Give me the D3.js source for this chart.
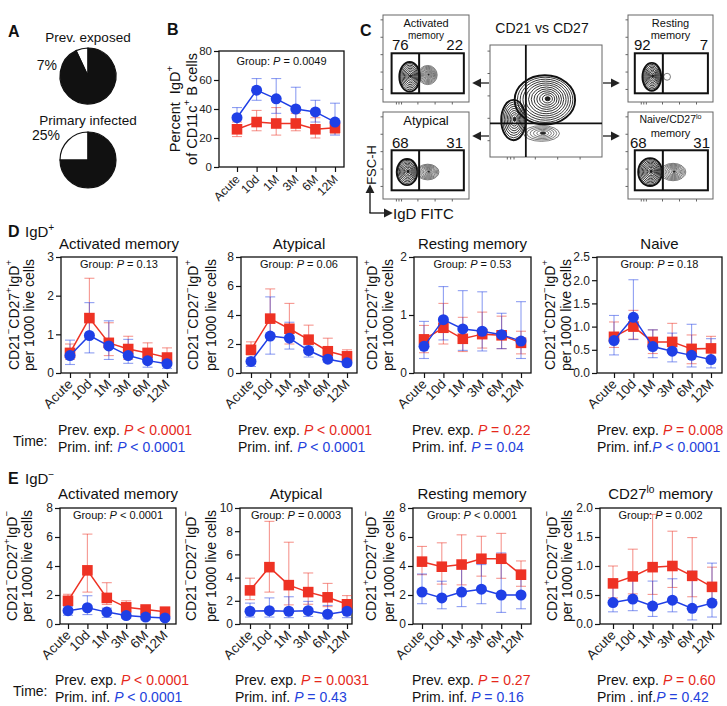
<!DOCTYPE html>
<html>
<head>
<meta charset="utf-8">
<script src="https://cdn.jsdelivr.net/npm/d3@7.9.0/dist/d3.min.js"></script>
<style>
  body { margin: 0; background: #fff; }
  svg { display: block; font-family: "Liberation Sans", Arial, Helvetica, sans-serif; }
  text { white-space: pre; }
</style>
</head>
<body>
<svg id="fig" width="727" height="706"></svg>
<script>
const timepoints = ['Acute', '10d', '1M', '3M', '6M', '12M'];

// A: share of IgD- cells (white slice)
const pieGroups = ['Prev. exposed', 'Primary infected'];
const pieIgdNegPct = [7, 25];
const pieLabels = ['7%', '25%'];

// B: percent IgD+ of CD11c+ B cells, [lower, mean, upper]
const bPrev = [[21, 26, 31], [25, 31, 39], [22, 30, 41], [25, 30, 37], [20, 26, 34], [23, 27, 31]];
const bPrim = [[28, 34, 41], [46, 53, 61], [37, 47, 61], [29, 40, 55], [31, 38, 46], [22, 31, 44]];

// C: flow plots, gate percentages and populations [IgD, FSC, spreadX, spreadY, levels, bold]
const cActPct = [76, 22];
const cAtyPct = [68, 31];
const cRestPct = [92, 7];
const cNaivePct = [68, 31];
const cActPops = [[31, 29, 12, 17, 9, 1], [52, 31, 11, 11, 10, 0]];
const cAtyPops = [[28, 31, 12, 15, 9, 1], [52, 31, 13, 9, 9, 0]];
const cRestPops = [[28, 29, 11, 16, 9, 1], [46, 29, 4, 4, 1, 0]];
const cNaivePops = [[26, 31, 14, 16, 10, 1], [53, 31, 15, 10, 9, 0]];
const cMainPops = [[49, 51, 27, 22, 12, 1], [21, 33, 11, 18, 9, 1], [46, 21, 16, 7, 6, 0]];

// D: IgD+ subsets, cells per 1000 live cells [lower, mean, upper]
const dActPrev = [[0.35, 0.52, 0.75], [0.9, 1.42, 2.45], [0.45, 0.78, 1.3], [0.35, 0.62, 0.95], [0.3, 0.52, 0.78], [0.22, 0.4, 0.65]];
const dActPrim = [[0.22, 0.45, 0.85], [0.52, 0.97, 1.82], [0.35, 0.7, 1.35], [0.25, 0.45, 0.87], [0.15, 0.32, 0.55], [0.12, 0.24, 0.45]];
const dAtyPrev = [[1.25, 1.6, 2.15], [2.6, 3.75, 5.8], [2.0, 3.05, 4.8], [1.6, 2.3, 3.3], [1.0, 1.5, 2.4], [0.8, 1.15, 1.6]];
const dAtyPrim = [[0.45, 0.8, 1.05], [1.3, 2.55, 5.25], [1.65, 2.4, 3.5], [1.1, 1.55, 1.85], [0.75, 0.95, 1.2], [0.5, 0.7, 0.85]];
const dRestPrev = [[0.35, 0.58, 0.82], [0.5, 0.78, 1.2], [0.37, 0.59, 0.96], [0.43, 0.67, 1.05], [0.42, 0.65, 0.98], [0.33, 0.52, 0.72]];
const dRestPrim = [[0.25, 0.46, 0.89], [0.57, 0.92, 1.49], [0.39, 0.76, 1.42], [0.38, 0.72, 1.4], [0.42, 0.66, 1.03], [0.25, 0.55, 1.23]];
const dNaivePrev = [[0.55, 0.78, 1.1], [0.73, 1.0, 1.35], [0.42, 0.67, 0.93], [0.43, 0.67, 1.07], [0.2, 0.52, 0.82], [0.35, 0.53, 0.79]];
const dNaivePrim = [[0.39, 0.7, 1.24], [0.72, 1.2, 2.01], [0.33, 0.57, 0.93], [0.24, 0.47, 0.86], [0.13, 0.38, 1.05], [0.11, 0.29, 0.74]];

// E: IgD- subsets
const eActPrev = [[1.35, 1.6, 2.05], [2.2, 3.7, 6.2], [1.35, 1.8, 2.85], [0.85, 1.15, 1.6], [0.8, 1.0, 1.2], [0.65, 0.85, 1.0]];
const eActPrim = [[0.6, 0.92, 1.2], [0.65, 1.12, 1.95], [0.45, 0.82, 1.1], [0.4, 0.58, 0.8], [0.3, 0.48, 0.65], [0.28, 0.42, 0.55]];
const eAtyPrev = [[2.1, 2.9, 3.95], [2.75, 4.9, 8.85], [1.65, 3.35, 7.05], [1.7, 2.75, 4.4], [1.5, 2.3, 3.5], [1.25, 1.7, 2.45]];
const eAtyPrim = [[0.6, 1.1, 1.8], [0.6, 1.15, 2.25], [0.55, 1.1, 2.35], [0.65, 1.15, 1.95], [0.45, 0.85, 1.6], [0.55, 1.1, 1.6]];
const eRestPrev = [[3.4, 4.3, 5.35], [2.75, 3.95, 5.6], [2.7, 4.1, 6.15], [3.3, 4.5, 6.05], [3.15, 4.5, 6.25], [2.6, 3.4, 4.35]];
const eRestPrim = [[1.4, 2.2, 3.45], [1.05, 1.8, 2.95], [1.2, 2.2, 3.95], [1.4, 2.4, 4.1], [0.8, 2.0, 4.9], [1.05, 2.0, 3.7]];
const eLoPrev = [[0.45, 0.7, 1.0], [0.52, 0.82, 1.29], [0.51, 0.98, 1.89], [0.63, 1.0, 1.6], [0.47, 0.83, 1.49], [0.42, 0.64, 0.98]];
const eLoPrim = [[0.21, 0.37, 0.64], [0.23, 0.43, 0.86], [0.13, 0.31, 0.74], [0.21, 0.41, 0.78], [0.07, 0.27, 0.91], [0.12, 0.36, 1.05]];

// labels and stats
const dTitles = ['Activated memory', 'Atypical', 'Resting memory', 'Naive'];
const eTitles = ['Activated memory', 'Atypical', 'Resting memory', 'CD27{lo} memory'];
const dYLabels = ['CD21{−}CD27{+}IgD{+}', 'CD21{−}CD27{−}IgD{+}', 'CD21{+}CD27{+}IgD{+}', 'CD21{+}CD27{−}IgD{+}'];
const eYLabels = ['CD21{−}CD27{+}IgD{−}', 'CD21{−}CD27{−}IgD{−}', 'CD21{+}CD27{+}IgD{−}', 'CD21{+}CD27{−}IgD{−}'];
const dYTicks = [[0, 1, 2, 3], [0, 2, 4, 6, 8], [0, 1, 2], [0, 0.5, 1, 1.5, 2, 2.5]];
const eYTicks = [[0, 2, 4, 6, 8], [0, 2, 4, 6, 8, 10], [0, 2, 4, 6, 8], [0, 0.5, 1, 1.5, 2]];
const dGroupP = ['= 0.13', '= 0.06', '= 0.53', '= 0.18'];
const eGroupP = ['< 0.0001', '= 0.0003', '< 0.0001', '= 0.002'];
const dTimePrev = ['< 0.0001', '< 0.0001', '= 0.22', '= 0.008'];
const dTimePrim = ['< 0.0001', '< 0.0001', '= 0.04', '< 0.0001'];
const eTimePrev = ['< 0.0001', '= 0.0031', '= 0.27', '= 0.60'];
const eTimePrim = ['< 0.0001', '= 0.43', '= 0.16', '= 0.42'];
const dPrimName = ['Prim. inf: ', 'Prim. inf. ', 'Prim. inf. ', 'Prim. inf.'];
const ePrimName = ['Prim. inf. ', 'Prim. inf. ', 'Prim. inf. ', 'Prim . inf.'];

const RED = '#ee3224';
const BLUE = '#1f3fe6';
const RED_T = '#e5281c';
const BLUE_T = '#2442dc';
const INK = '#111';

const svg = d3.select('#fig');

// text with {superscript} parts
function rich(t, str, size) {
  const parts = str.split(/(\{[^}]*\})/).filter(s => s.length);
  let up = false;
  parts.forEach(p => {
    if (p[0] === '{') {
      t.append('tspan').attr('font-size', size * 0.68).attr('dy', -size * 0.4).text(p.slice(1, -1));
      up = true;
    } else {
      const s = t.append('tspan').text(p);
      if (up) { s.attr('dy', size * 0.4); up = false; }
    }
  });
  return t;
}

function label(parent, x, y, str, size, opt = {}) {
  const t = parent.append('text')
    .attr('x', x).attr('y', y)
    .attr('font-size', size)
    .attr('fill', opt.fill || INK)
    .attr('text-anchor', opt.anchor || 'start');
  if (opt.weight) t.attr('font-weight', opt.weight);
  if (opt.transform) t.attr('transform', opt.transform);
  if (opt.baseline) t.attr('dominant-baseline', opt.baseline);
  return rich(t, str, size);
}

function pText(parent, x, y, prefix, rel, color, size, anchor) {
  const t = parent.append('text')
    .attr('x', x).attr('y', y)
    .attr('font-size', size)
    .attr('fill', INK)
    .attr('text-anchor', anchor || 'start');
  t.append('tspan').text(prefix);
  t.append('tspan').attr('font-style', 'italic').attr('fill', color).text('P');
  t.append('tspan').attr('fill', color).text(' ' + rel);
  return t;
}

// ---------- panel letters ----------
label(svg, 8, 37, 'A', 16, { weight: 700 });
label(svg, 167, 35, 'B', 16, { weight: 700 });
label(svg, 360, 36, 'C', 16, { weight: 700 });
label(svg, 8, 237, 'D', 16, { weight: 700 });
label(svg, 25, 237, 'IgD{+}', 15);
label(svg, 8, 484, 'E', 16, { weight: 700 });
label(svg, 25, 484, 'IgD{−}', 15);

// ---------- A: pies ----------
const pieCy = [76, 160];
const pieTitleY = [42, 125];
const arc = d3.arc().innerRadius(0).outerRadius(28);
pieGroups.forEach((name, i) => {
  const p = pieIgdNegPct[i] / 100;
  const pie = d3.pie().sort(null)
    .startAngle(-p * 2 * Math.PI)
    .endAngle((1 - p) * 2 * Math.PI);
  const g = svg.append('g').attr('transform', `translate(88,${pieCy[i]})`);
  g.selectAll('path')
    .data(pie([pieIgdNegPct[i], 100 - pieIgdNegPct[i]]))
    .join('path')
    .attr('d', arc)
    .attr('fill', (d, j) => j === 0 ? '#fff' : '#111')
    .attr('stroke', '#111')
    .attr('stroke-width', 1.2);
  label(svg, 88, pieTitleY[i], name, 13.5, { anchor: 'middle' });
  label(svg, i === 0 ? 57 : 60, pieCy[i] + (i === 0 ? -6 : -20), pieLabels[i], 14, { anchor: 'end' });
});

// ---------- line chart ----------
function lineChart(o) {
  const g = svg.append('g');
  const x = d3.scalePoint().domain(timepoints).range([o.left + o.padL, o.right - o.padR]);
  const y = d3.scaleLinear().domain([0, o.ticks[o.ticks.length - 1]]).range([o.bottom, o.top]);

  const yAxis = g.append('g')
    .attr('transform', `translate(${o.left},0)`)
    .call(d3.axisLeft(y).tickValues(o.ticks).tickFormat(o.fmt).tickSize(5).tickPadding(2));
  yAxis.attr('font-family', null).attr('font-size', o.tickFs);
  yAxis.select('.domain').remove();
  yAxis.selectAll('.tick line').attr('stroke', INK).attr('stroke-width', 1.2);
  yAxis.selectAll('.tick text').attr('fill', '#222');

  const xAxis = g.append('g')
    .attr('transform', `translate(0,${o.bottom})`)
    .call(d3.axisBottom(x).tickSize(5));
  xAxis.attr('font-family', null).attr('font-size', o.xFs);
  xAxis.select('.domain').remove();
  xAxis.selectAll('.tick line').attr('stroke', INK).attr('stroke-width', 1.2);
  xAxis.selectAll('.tick text')
    .attr('y', 0).attr('dy', null)
    .attr('text-anchor', 'end')
    .attr('fill', '#222')
    .attr('transform', `translate(${o.xdx},${o.xdy}) rotate(-45)`);

  g.append('rect')
    .attr('x', o.left).attr('y', o.top)
    .attr('width', o.right - o.left).attr('height', o.bottom - o.top)
    .attr('fill', 'none').attr('stroke', INK).attr('stroke-width', 1.3);

  const series = [
    { data: o.prev, color: RED, kind: 'square' },
    { data: o.prim, color: BLUE, kind: 'circle' }
  ];
  const cap = 5;
  series.forEach(s => {
    const eb = g.append('g').attr('stroke', s.color).attr('stroke-opacity', 0.5).attr('stroke-width', 1.1);
    eb.selectAll('line.v').data(s.data).join('line').attr('class', 'v')
      .attr('x1', (d, i) => x(timepoints[i])).attr('x2', (d, i) => x(timepoints[i]))
      .attr('y1', d => y(d[0])).attr('y2', d => y(d[2]));
    [0, 2].forEach(k => {
      eb.selectAll('line.c' + k).data(s.data).join('line').attr('class', 'c' + k)
        .attr('x1', (d, i) => x(timepoints[i]) - cap).attr('x2', (d, i) => x(timepoints[i]) + cap)
        .attr('y1', d => y(d[k])).attr('y2', d => y(d[k]));
    });
  });
  series.forEach(s => {
    g.append('path')
      .datum(s.data)
      .attr('fill', 'none')
      .attr('stroke', s.color)
      .attr('stroke-width', 1.5)
      .attr('d', d3.line().x((d, i) => x(timepoints[i])).y(d => y(d[1])));
    const sym = d3.symbol().type(s.kind === 'square' ? d3.symbolSquare : d3.symbolCircle)
      .size(s.kind === 'square' ? 112 : 95);
    g.selectAll('path.m-' + s.kind).data(s.data).join('path').attr('class', 'm-' + s.kind)
      .attr('transform', (d, i) => `translate(${x(timepoints[i])},${y(d[1])})`)
      .attr('d', sym)
      .attr('fill', s.color);
  });

  const cx = (o.left + o.right) / 2;
  if (o.title) label(g, cx, o.titleY, o.title, 15, { anchor: 'middle' });
  pText(g, cx, o.top + o.groupDy, 'Group: ', o.group, INK, 11, 'middle');

  const cy = (o.top + o.bottom) / 2;
  o.ylab.forEach((s, i) => {
    label(g, 0, 0, s, o.labFs, {
      anchor: 'middle', baseline: 'central',
      transform: `translate(${o.left + o.labOff[i]},${cy}) rotate(-90)`
    });
  });
}

// ---------- B ----------
lineChart({
  left: 219, right: 344, top: 51, bottom: 167, padL: 18, padR: 9,
  ticks: [0, 20, 40, 60, 80], fmt: d3.format('d'), tickFs: 11.5, xFs: 12, xdx: 3, xdy: 13,
  prev: bPrev, prim: bPrim,
  group: '= 0.0049', groupDy: 14,
  ylab: ['Percent  IgD{+}', 'of CD11c{+} B cells'], labOff: [-44, -27], labFs: 14.5
});

// ---------- D and E ----------
const dLayout = [
  { left: 61, right: 177, padL: 9, padR: 10, lab: [-47, -32], tx: 58 },
  { left: 241, right: 357, padL: 10, padR: 10, lab: [-48, -30], tx: 238 },
  { left: 414, right: 531, padL: 10, padR: 10, lab: [-42, -26], tx: 412 },
  { left: 597, right: 722, padL: 17, padR: 11, lab: [-47, -31], tx: 597 }
];
const eLayout = [
  { left: 60, right: 176, padL: 8, padR: 11, lab: [-48, -33], tx: 55 },
  { left: 240, right: 352, padL: 10, padR: 5, lab: [-49, -29], tx: 235 },
  { left: 413, right: 531, padL: 9, padR: 10, lab: [-42, -24], tx: 412 },
  { left: 600, right: 721, padL: 13, padR: 9, lab: [-48, -33], tx: 597 }
];
const dSeries = [[dActPrev, dActPrim], [dAtyPrev, dAtyPrim], [dRestPrev, dRestPrim], [dNaivePrev, dNaivePrim]];
const eSeries = [[eActPrev, eActPrim], [eAtyPrev, eAtyPrim], [eRestPrev, eRestPrim], [eLoPrev, eLoPrim]];

function row(layout, series, titles, ylabels, ticks, groupP, timePrev, timePrim, primName, top, bottom, titleY, timeY) {
  layout.forEach((L, i) => {
    const decimal = ticks[i].some(v => v % 1 !== 0);
    lineChart({
      left: L.left, right: L.right, top, bottom, padL: L.padL, padR: L.padR,
      ticks: ticks[i], fmt: decimal ? d3.format('.1f') : d3.format('d'),
      tickFs: 12, xFs: 13.5, xdx: 3, xdy: 12,
      prev: series[i][0], prim: series[i][1],
      title: titles[i], titleY,
      group: groupP[i], groupDy: 11,
      ylab: [ylabels[i], 'per 1000 live cells'], labOff: L.lab, labFs: 14
    });
    pText(svg, L.tx, timeY[0], 'Prev. exp. ', timePrev[i], RED_T, 14);
    pText(svg, L.tx, timeY[1], primName[i], timePrim[i], BLUE_T, 14);
  });
  label(svg, 13, (timeY[0] + timeY[1]) / 2 + 2, 'Time:', 14);
}

row(dLayout, dSeries, dTitles, dYLabels, dYTicks, dGroupP, dTimePrev, dTimePrim, dPrimName, 257, 373, 249, [435, 452]);
row(eLayout, eSeries, eTitles, eYLabels, eYTicks, eGroupP, eTimePrev, eTimePrim, ePrimName, 508, 624, 499, [685, 702]);

// ---------- C: flow plots ----------
const defs = svg.append('defs');
defs.append('marker').attr('id', 'arr')
  .attr('viewBox', '0 0 10 10').attr('refX', 8).attr('refY', 5)
  .attr('markerWidth', 7).attr('markerHeight', 7).attr('orient', 'auto')
  .append('path').attr('d', 'M0,0L10,5L0,10z').attr('fill', '#222');

function flowBox(b, pops, opts) {
  const g = svg.append('g');
  const xs = d3.scaleLinear().domain([0, 100]).range([b.x0, b.x1]);
  const ys = d3.scaleLinear().domain([0, 100]).range([b.y1, b.y0]);
  g.append('rect').attr('x', b.x0).attr('y', b.y0).attr('width', b.x1 - b.x0).attr('height', b.y1 - b.y0)
    .attr('fill', '#fff').attr('stroke', '#666').attr('stroke-width', 1);
  const la = g.append('g').attr('transform', `translate(${b.x0},0)`)
    .call(d3.axisLeft(ys).tickValues([15, 35, 55, 75, 95]).tickFormat('').tickSize(2.5));
  la.select('.domain').remove();
  la.selectAll('line').attr('stroke', '#666');
  const ba = g.append('g').attr('transform', `translate(0,${b.y1})`)
    .call(d3.axisBottom(xs).tickValues([15, 18, 21, 40, 60, 80]).tickFormat('').tickSize(2.5));
  ba.select('.domain').remove();
  ba.selectAll('line').attr('stroke', '#666');

  pops.forEach(([px, py, sx, sy, n, bold]) => {
    for (let k = n; k >= 1; k--) {
      const f = k / n;
      g.append('ellipse')
        .attr('cx', xs(px + sx * 0.1 * (1 - f)))
        .attr('cy', ys(py + sy * 0.05 * (1 - f)))
        .attr('rx', xs(sx * f) - xs(0))
        .attr('ry', ys(0) - ys(sy * f))
        .attr('fill', k === 1 && n > 1 ? '#222' : 'none')
        .attr('stroke', bold ? '#111' : '#444')
        .attr('stroke-width', k === n && bold ? 1.9 : (bold ? 0.85 : 0.7));
    }
  });

  if (opts.gate) {
    const [gx0, gx1, gy0, gy1, split] = opts.gate;
    g.append('rect').attr('x', xs(gx0)).attr('y', ys(gy1))
      .attr('width', xs(gx1) - xs(gx0)).attr('height', ys(gy0) - ys(gy1))
      .attr('fill', 'none').attr('stroke', '#111').attr('stroke-width', 2);
    g.append('line').attr('x1', xs(split)).attr('x2', xs(split)).attr('y1', ys(gy1)).attr('y2', ys(gy0))
      .attr('stroke', '#111').attr('stroke-width', 2);
  }
  if (opts.cross) {
    const [vx, hy] = opts.cross;
    g.append('line').attr('x1', xs(vx)).attr('x2', xs(vx)).attr('y1', b.y0).attr('y2', b.y1)
      .attr('stroke', '#111').attr('stroke-width', 1.8);
    g.append('line').attr('x1', b.x0).attr('x2', b.x1).attr('y1', ys(hy)).attr('y2', ys(hy))
      .attr('stroke', '#111').attr('stroke-width', 1.8);
  }
  const mid = (b.x0 + b.x1) / 2;
  (opts.names || []).forEach(([s, y, size]) => label(g, mid, y, s, size, { anchor: 'middle' }));
  if (opts.pct) {
    label(g, b.x0 + opts.pctIn[0], opts.pctY, String(opts.pct[0]), 15);
    label(g, b.x1 - opts.pctIn[1], opts.pctY, String(opts.pct[1]), 15, { anchor: 'end' });
  }
}

flowBox({ x0: 383, y0: 15, x1: 469, y1: 102 }, cActPops, {
  gate: [10, 94, 10, 56, 42], pct: cActPct, pctIn: [9, 6], pctY: 50,
  names: [['Activated', 27, 11], ['memory', 39, 10]]
});
flowBox({ x0: 383, y0: 112, x1: 469, y1: 199 }, cAtyPops, {
  gate: [10, 94, 10, 56, 42], pct: cAtyPct, pctIn: [9, 6], pctY: 148,
  names: [['Atypical', 125, 13]]
});
flowBox({ x0: 628, y0: 15, x1: 713, y1: 102 }, cRestPops, {
  gate: [8, 94, 10, 56, 41], pct: cRestPct, pctIn: [6, 5], pctY: 50,
  names: [['Resting', 27, 11], ['memory', 39, 11]]
});
flowBox({ x0: 628, y0: 112, x1: 713, y1: 199 }, cNaivePops, {
  gate: [8, 94, 10, 56, 41], pct: cNaivePct, pctIn: [2, 3], pctY: 148,
  names: [['Naive/CD27{lo}', 123, 10.5], ['memory', 137, 11]]
});
flowBox({ x0: 490, y0: 45, x1: 602, y1: 157 }, cMainPops, { cross: [32, 30] });
label(svg, 542, 33, 'CD21 vs CD27', 14, { anchor: 'middle' });

[[489, 474, 83], [489, 474, 136], [603, 618, 83], [603, 618, 136]].forEach(([x1, x2, y]) => {
  svg.append('line').attr('x1', x1).attr('x2', x2).attr('y1', y).attr('y2', y)
    .attr('stroke', '#222').attr('stroke-width', 1.3).attr('marker-end', 'url(#arr)');
});

svg.append('path').attr('d', 'M370,213V186').attr('stroke', '#111').attr('stroke-width', 1.3)
  .attr('fill', 'none').attr('marker-end', 'url(#arr)');
svg.append('path').attr('d', 'M369.4,213H391').attr('stroke', '#111').attr('stroke-width', 1.3)
  .attr('fill', 'none').attr('marker-end', 'url(#arr)');
label(svg, 0, 0, 'FSC-H', 13, { anchor: 'middle', baseline: 'central', transform: 'translate(371,165) rotate(-90)' });
label(svg, 393, 219, 'IgD FITC', 15);
</script>
</body>
</html>
